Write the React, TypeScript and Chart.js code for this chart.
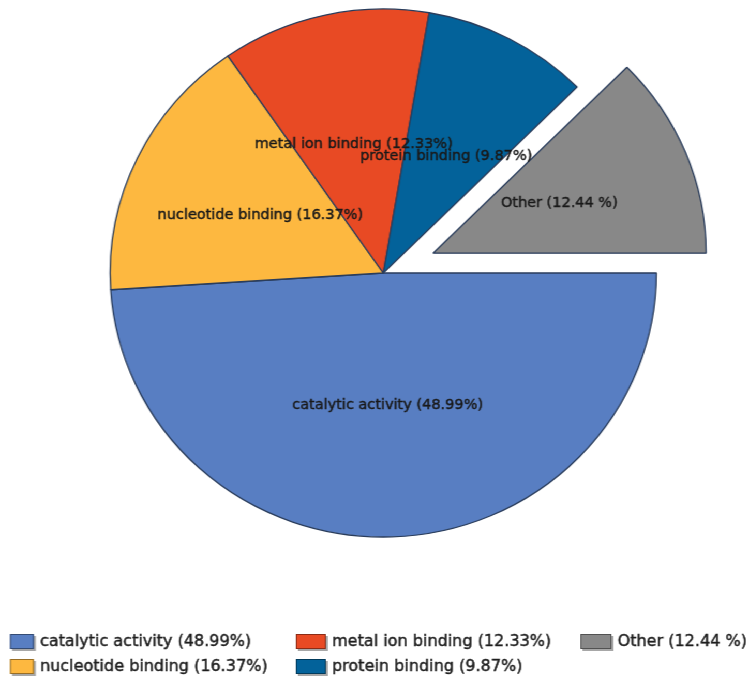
import React, { useEffect, useRef } from "react";
import { Chart, registerables } from "chart.js";

Chart.register(...registerables);

const categories = [
  "catalytic activity (48.99%)",
  "nucleotide binding (16.37%)",
  "metal ion binding (12.33%)",
  "protein binding (9.87%)",
  "Other (12.44 %)",
];
const values = [48.99, 16.37, 12.33, 9.87, 12.44];
const sliceColors = ["#587ec2", "#fdb840", "#e84a24", "#03629a", "#888888"];
const explodedIndex = 4;

// layout constants (unscaled canvas coordinates)
const SCALE_X = 749 / 724;
const EXPLODE = 52;
const LEGEND_COLS = [9.7, 286, 561];
const LEGEND_BOX_W = [23, 29, 30];
const LEGEND_ROWS = [642, 667];
const FONT = '"DejaVu Sans", Verdana, sans-serif';

function shade(hex: string, f: number) {
  const n = parseInt(hex.slice(1), 16);
  const r = Math.round(((n >> 16) & 255) * f);
  const g = Math.round(((n >> 8) & 255) * f);
  const b = Math.round((n & 255) * f);
  return `rgb(${r},${g},${b})`;
}

const explodePlugin = {
  id: "explodeSlice",
  beforeDatasetsDraw(chart: any) {
    const meta = chart.getDatasetMeta(0);
    const el = meta.data[explodedIndex];
    if (el && !el.__patched) {
      const orig = el.draw;
      el.draw = function (ctx: CanvasRenderingContext2D, area: any) {
        const a = (this.startAngle + this.endAngle) / 2;
        ctx.save();
        ctx.translate(Math.cos(a) * EXPLODE, Math.sin(a) * EXPLODE);
        orig.call(this, ctx, area);
        ctx.restore();
      };
      el.__patched = true;
    }
  },
};

function heavyText(ctx: CanvasRenderingContext2D, text: string, x: number, y: number) {
  ctx.fillText(text, x, y);
  ctx.lineWidth = 0.45;
  ctx.strokeText(text, x, y);
}

const labelPlugin = {
  id: "sliceLabels",
  afterDatasetsDraw(chart: any) {
    const ctx: CanvasRenderingContext2D = chart.ctx;
    const meta = chart.getDatasetMeta(0);
    ctx.save();
    ctx.font = `14px ${FONT}`;
    ctx.fillStyle = "#1a1a1a";
    ctx.strokeStyle = "#1a1a1a";
    ctx.textAlign = "center";
    ctx.textBaseline = "middle";
    meta.data.forEach((el: any, i: number) => {
      const p = el.tooltipPosition();
      let x = p.x;
      let y = p.y;
      if (i === explodedIndex) {
        const a = (el.startAngle + el.endAngle) / 2;
        x += Math.cos(a) * EXPLODE;
        y += Math.sin(a) * EXPLODE;
      }
      heavyText(ctx, chart.data.labels[i], x, y);
    });
    ctx.restore();
  },
};

const legendPlugin = {
  id: "columnLegend",
  afterDraw(chart: any) {
    const ctx: CanvasRenderingContext2D = chart.ctx;
    const labels: string[] = chart.data.labels;
    const colors: string[] = chart.data.datasets[0].backgroundColor;
    ctx.save();
    ctx.font = `15.5px ${FONT}`;
    ctx.textBaseline = "middle";
    ctx.textAlign = "left";
    labels.forEach((lab, i) => {
      const col = Math.floor(i / 2);
      const row = i % 2;
      const x = LEGEND_COLS[col];
      const yc = LEGEND_ROWS[row];
      const w = LEGEND_BOX_W[col];
      const h = 15;
      const by = yc - 8;
      ctx.fillStyle = "rgba(60,60,60,0.45)";
      ctx.fillRect(x + 2, by + 2, w, h);
      ctx.fillStyle = colors[i];
      ctx.fillRect(x, by, w, h);
      ctx.strokeStyle = shade(colors[i], 0.6);
      ctx.lineWidth = 1;
      ctx.strokeRect(x + 0.5, by + 0.5, w - 1, h - 1);
      ctx.fillStyle = "#1e1e1e";
      ctx.strokeStyle = "#1e1e1e";
      heavyText(ctx, lab, x + w + 6, yc);
    });
    ctx.restore();
  },
};

export default function App() {
  const canvasRef = useRef<HTMLCanvasElement | null>(null);

  useEffect(() => {
    if (!canvasRef.current) return;
    const chart = new Chart(canvasRef.current, {
      type: "pie",
      data: {
        labels: categories,
        datasets: [
          {
            data: values,
            backgroundColor: sliceColors,
            borderColor: "#2a3d5c",
            borderWidth: 1.3,
            radius: 264,
            rotation: 90,
            clip: false,
          } as any,
        ],
      },
      options: {
        animation: false,
        responsive: true,
        maintainAspectRatio: false,
        layout: { padding: { left: 17, right: 0, top: 0, bottom: 133 } },
        plugins: {
          legend: { display: false },
          tooltip: { enabled: false },
          title: { display: false },
        },
      },
      plugins: [explodePlugin, labelPlugin, legendPlugin],
    });
    return () => chart.destroy();
  }, []);

  return (
    <div
      style={{
        position: "fixed",
        left: 0,
        top: 0,
        width: 724,
        height: 679,
        transform: `scaleX(${SCALE_X})`,
        transformOrigin: "0 0",
        background: "#ffffff",
      }}
    >
      <canvas ref={canvasRef} />
    </div>
  );
}
